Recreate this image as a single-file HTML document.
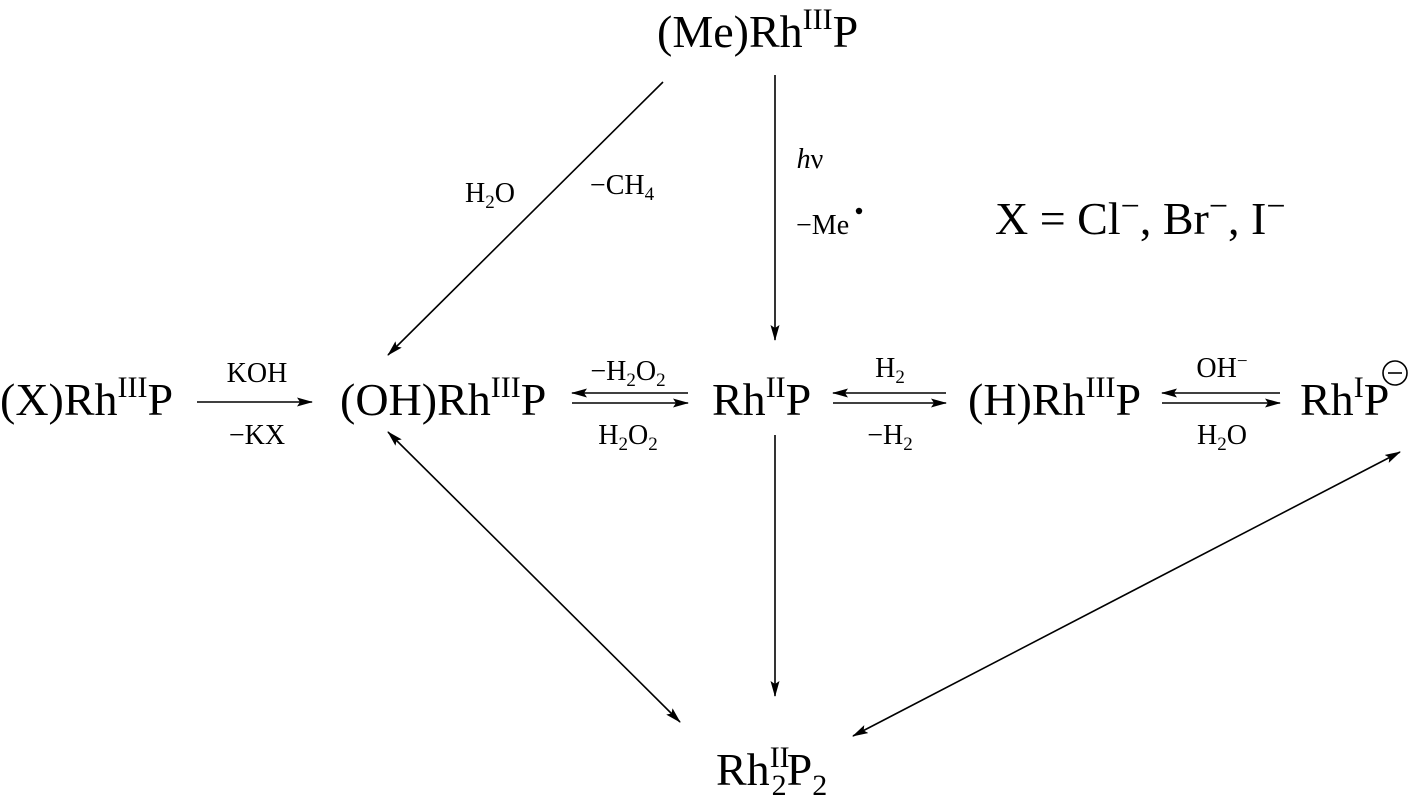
<!DOCTYPE html>
<html><head><style>body{margin:0;background:#fff}svg{display:block}text{font-family:"Liberation Serif",serif;fill:#000}</style></head><body>
<svg width="1415" height="808" viewBox="0 0 1415 808" xmlns="http://www.w3.org/2000/svg">
<defs>
<marker id="a" markerWidth="16" markerHeight="9" refX="15" refY="4.5" orient="auto-start-reverse" markerUnits="userSpaceOnUse"><path d="M0,0 L16,4.5 L0,9 L3,4.5 Z" fill="#000"/></marker>
</defs>
<g font-size="46">
<text x="657" y="47">(Me)Rh<tspan font-size="30" dy="-18">III</tspan><tspan dy="18">P</tspan></text>
<text x="0" y="415">(X)Rh<tspan font-size="30" dy="-18">III</tspan><tspan dy="18">P</tspan></text>
<text x="340" y="415">(OH)Rh<tspan font-size="30" dy="-18">III</tspan><tspan dy="18">P</tspan></text>
<text x="712" y="415">Rh<tspan font-size="30" dy="-18">II</tspan><tspan dy="18">P</tspan></text>
<text x="968" y="415">(H)Rh<tspan font-size="30" dy="-18">III</tspan><tspan dy="18">P</tspan></text>
<text x="1300" y="415">Rh<tspan font-size="30" dy="-18">I</tspan><tspan dy="18">P</tspan></text>
<text x="716" y="785">Rh<tspan font-size="30" dy="-18">II</tspan><tspan font-size="30" dx="-18" dy="28">2</tspan><tspan dy="-10">P</tspan><tspan font-size="30" dy="10">2</tspan></text>
<text x="995" y="234">X = Cl<tspan font-size="34" dy="-17">−</tspan><tspan dy="17">, Br</tspan><tspan font-size="34" dy="-17">−</tspan><tspan dy="17">, I</tspan><tspan font-size="34" dy="-17">−</tspan></text>
</g>
<circle cx="1395" cy="373" r="12" fill="none" stroke="#000" stroke-width="1.6"/><line x1="1388" y1="373" x2="1402" y2="373" stroke="#000" stroke-width="1.6"/>
<g font-size="28" text-anchor="middle">
<text x="257" y="382">KOH</text><text x="257" y="444">−KX</text>
<text x="628" y="380">−H<tspan font-size="19" dy="6">2</tspan><tspan dy="-6">O</tspan><tspan font-size="19" dy="6">2</tspan></text>
<text x="628" y="444">H<tspan font-size="19" dy="6">2</tspan><tspan dy="-6">O</tspan><tspan font-size="19" dy="6">2</tspan></text>
<text x="890" y="377">H<tspan font-size="19" dy="6">2</tspan></text>
<text x="890" y="444">−H<tspan font-size="19" dy="6">2</tspan></text>
<text x="1222" y="377">OH<tspan font-size="19" dy="-10">−</tspan></text>
<text x="1222" y="444">H<tspan font-size="19" dy="6">2</tspan><tspan dy="-6">O</tspan></text>
<text x="490" y="202">H<tspan font-size="19" dy="6">2</tspan><tspan dy="-6">O</tspan></text>
<text x="622" y="194">−CH<tspan font-size="19" dy="6">4</tspan></text>
<text x="810" y="168" font-style="italic">h<tspan font-style="normal">ν</tspan></text>
<text x="796" y="234" text-anchor="start">−Me</text>
</g>
<circle cx="859" cy="211" r="3.2" fill="#000"/>
<g stroke="#000" stroke-width="1.6" fill="none">
<line x1="197" y1="402" x2="312" y2="402" marker-end="url(#a)"/>
<line x1="688" y1="393" x2="572" y2="393" marker-end="url(#a)"/>
<line x1="572" y1="403" x2="688" y2="403" marker-end="url(#a)"/>
<line x1="946" y1="393" x2="833" y2="393" marker-end="url(#a)"/>
<line x1="833" y1="403" x2="946" y2="403" marker-end="url(#a)"/>
<line x1="1280" y1="393" x2="1162" y2="393" marker-end="url(#a)"/>
<line x1="1162" y1="403" x2="1280" y2="403" marker-end="url(#a)"/>
<line x1="663" y1="82" x2="388" y2="355" marker-end="url(#a)"/>
<line x1="775" y1="75" x2="775" y2="340" marker-end="url(#a)"/>
<line x1="775" y1="435" x2="775" y2="696" marker-end="url(#a)"/>
<line x1="388" y1="432" x2="680" y2="722" marker-start="url(#a)" marker-end="url(#a)"/>
<line x1="1400" y1="452" x2="853" y2="736" marker-start="url(#a)" marker-end="url(#a)"/>
</g>
</svg>
</body></html>
